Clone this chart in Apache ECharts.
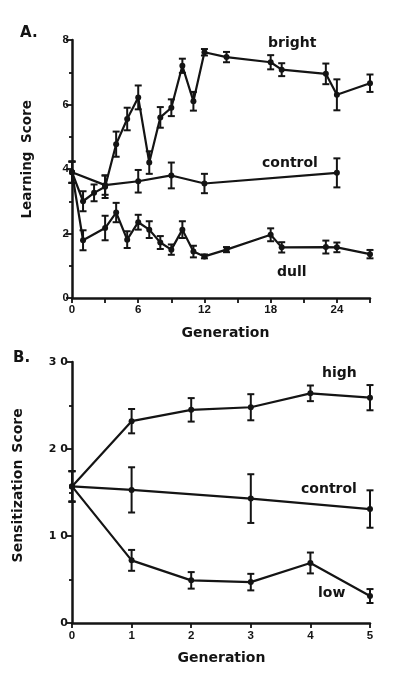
<!DOCTYPE html>
<html><head><meta charset="utf-8">
<script src="https://cdn.jsdelivr.net/npm/echarts@6/dist/echarts.min.js"></script>
<style>html,body{margin:0;padding:0;background:#fff}#c{width:400px;height:683px}</style>
</head><body><div id="c"></div>
<script>
// ---- Panel A: learning score by generation ----
const brightGen = [0,1,2,3,4,5,6,7,8,9,10,11,12,14,18,19,23,24,27];
const brightVal = [3.9,3.0,3.26,3.45,4.77,5.55,6.22,4.2,5.6,5.9,7.2,6.1,7.62,7.47,7.31,7.08,6.95,6.3,6.66];
const brightErr = [0.33,0.31,0.26,0.35,0.39,0.35,0.37,0.35,0.32,0.26,0.22,0.29,0.1,0.16,0.22,0.2,0.32,0.48,0.27];
const controlAGen = [0,3,6,9,12,24];
const controlAVal = [3.9,3.5,3.62,3.8,3.55,3.88];
const controlAErr = [0.33,0.3,0.35,0.4,0.3,0.45];
const dullGen = [0,1,3,4,5,6,7,8,9,10,11,12,14,18,19,23,24,27];
const dullVal = [3.9,1.79,2.17,2.65,1.81,2.35,2.12,1.72,1.5,2.12,1.44,1.29,1.5,1.96,1.57,1.58,1.57,1.36];
const dullErr = [0.33,0.31,0.38,0.3,0.26,0.23,0.26,0.2,0.16,0.26,0.18,0.06,0.08,0.2,0.16,0.2,0.15,0.13];
const xTicksA = [0,6,12,18,24];
const yTicksA = [0,2,4,6,8];

// ---- Panel B: sensitization score by generation ----
const highGen = [0,1,2,3,4,5];
const highVal = [15.7,23.2,24.5,24.8,26.4,25.9];
const highErr = [1.75,1.4,1.35,1.5,0.9,1.45];
const controlBGen = [0,1,3,5];
const controlBVal = [15.7,15.3,14.3,13.1];
const controlBErr = [1.75,2.6,2.8,2.15];
const lowGen = [0,1,2,3,4,5];
const lowVal = [15.7,7.2,4.9,4.7,6.9,3.1];
const lowErr = [1.75,1.2,0.95,0.95,1.2,0.8];
const xTicksB = [0,1,2,3,4,5];
const yTicksB = [0,10,20,30];

const INK = '#141414';
const pts = (g, v) => g.map((x, i) => [x, v[i]]);
const errs = (g, v, e) => g.map((x, i) => [x, v[i] - e[i], v[i] + e[i]]);

function errRender(params, api) {
  const x = api.value(0), lo = api.value(1), hi = api.value(2);
  const p1 = api.coord([x, hi]), p2 = api.coord([x, lo]);
  const w = 3.5;
  const style = { stroke: INK, lineWidth: 2 };
  return { type: 'group', children: [
    { type: 'line', shape: { x1: p1[0], y1: p1[1], x2: p2[0], y2: p2[1] }, style },
    { type: 'line', shape: { x1: p1[0] - w, y1: p1[1], x2: p1[0] + w, y2: p1[1] }, style },
    { type: 'line', shape: { x1: p2[0] - w, y1: p2[1], x2: p2[0] + w, y2: p2[1] }, style }
  ]};
}
function lineSeries(idx, g, v) {
  return { type: 'line', xAxisIndex: idx, yAxisIndex: idx, data: pts(g, v),
    symbol: 'circle', symbolSize: 6, showSymbol: true,
    lineStyle: { color: INK, width: 2.2 }, itemStyle: { color: INK }, z: 3, animation: false };
}
function errSeries(idx, g, v, e) {
  return { type: 'custom', xAxisIndex: idx, yAxisIndex: idx, data: errs(g, v, e),
    encode: { x: 0, y: [1, 2] }, renderItem: errRender, z: 2, animation: false };
}
const axisLine = { show: true, lineStyle: { color: INK, width: 2.5 } };
const tickFont = { color: INK, fontFamily: 'Liberation Sans', fontWeight: 'bold', fontSize: 11.5 };
const spaced = v => String(v).split('').join(' ');

const option = {
  animation: false,
  backgroundColor: '#fff',
  grid: [
    { left: 72, top: 40, width: 298, height: 258 },
    { left: 72, top: 362, width: 298, height: 261 }
  ],
  xAxis: [
    { type: 'value', gridIndex: 0, min: 0, max: 27, interval: 3,
      axisLine, splitLine: { show: false },
      axisTick: { show: true, length: 5, lineStyle: { color: INK, width: 1.8 } },
      axisLabel: Object.assign({ margin: 6,
        formatter: v => xTicksA.includes(v) ? String(v) : '' }, tickFont) },
    { type: 'value', gridIndex: 1, min: 0, max: 5, interval: 1,
      axisLine, splitLine: { show: false },
      axisTick: { show: true, length: 5, lineStyle: { color: INK, width: 1.8 } },
      axisLabel: Object.assign({ margin: 7,
        formatter: v => xTicksB.includes(v) ? String(v) : '' }, tickFont) }
  ],
  yAxis: [
    { type: 'value', gridIndex: 0, min: 0, max: 8, interval: 2,
      axisLine, splitLine: { show: false },
      axisTick: { show: true, length: 6, lineStyle: { color: INK, width: 1.8 } },
      minorTick: { show: true, splitNumber: 2, length: 3, lineStyle: { color: INK, width: 1.8 } },
      minorSplitLine: { show: false },
      axisLabel: Object.assign({ margin: 3,
        formatter: v => yTicksA.includes(v) ? String(v) : '' }, tickFont) },
    { type: 'value', gridIndex: 1, min: 0, max: 30, interval: 10,
      axisLine, splitLine: { show: false },
      axisTick: { show: true, length: 6, lineStyle: { color: INK, width: 1.8 } },
      minorTick: { show: true, splitNumber: 2, length: 3, lineStyle: { color: INK, width: 1.8 } },
      minorSplitLine: { show: false },
      axisLabel: Object.assign({ margin: 4,
        formatter: v => yTicksB.includes(v) ? spaced(v) : '' }, tickFont, { fontFamily: 'DejaVu Sans', fontSize: 11 }) }
  ],
  series: [
    errSeries(0, brightGen, brightVal, brightErr),
    errSeries(0, controlAGen, controlAVal, controlAErr),
    errSeries(0, dullGen, dullVal, dullErr),
    lineSeries(0, brightGen, brightVal),
    lineSeries(0, controlAGen, controlAVal),
    lineSeries(0, dullGen, dullVal),
    errSeries(1, highGen, highVal, highErr),
    errSeries(1, controlBGen, controlBVal, controlBErr),
    errSeries(1, lowGen, lowVal, lowErr),
    lineSeries(1, highGen, highVal),
    lineSeries(1, controlBGen, controlBVal),
    lineSeries(1, lowGen, lowVal)
  ],
  graphic: (function () {
    const f = (s) => 'bold ' + s + 'px "DejaVu Sans"';
    const t = (text, x, y, size, align, rot) => ({
      type: 'text', x, y, rotation: rot || 0, silent: true,
      style: { text, font: f(size), fill: INK, textAlign: align || 'left', textVerticalAlign: 'middle' }
    });
    return [
      t('A.', 20, 33, 15),
      t('B.', 13, 358, 15),
      t('bright', 268, 43.5, 14),
      t('control', 262, 163, 14),
      t('dull', 277, 272, 14),
      t('Generation', 225.5, 333, 14, 'center'),
      t('high', 322, 373.5, 14),
      t('control', 301, 489, 14),
      t('low', 318, 593, 14),
      t('Generation', 221.5, 658, 14, 'center'),
      t('Learning', 27, 185, 13.5, 'center', Math.PI / 2),
      t('Score', 27, 121.5, 13.5, 'center', Math.PI / 2),
      t('Sensitization', 18, 511, 14, 'center', Math.PI / 2),
      t('Score', 18, 430.5, 14, 'center', Math.PI / 2)
    ];
  })()
};
const chart = echarts.init(document.getElementById('c'), null, { renderer: 'canvas' });
chart.setOption(option);
</script>
</body></html>
